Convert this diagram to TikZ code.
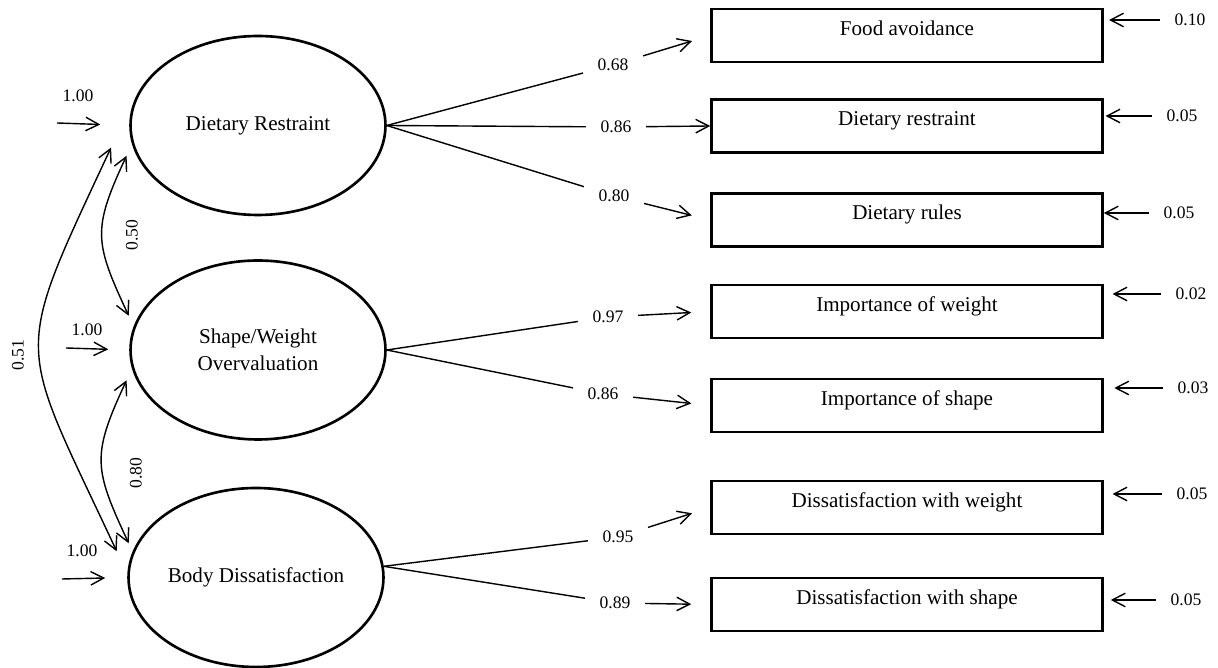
\documentclass[tikz,border=0pt]{standalone}
\usepackage{fontspec}
\setmainfont{Liberation Serif}
\usetikzlibrary{arrows.meta,shapes,positioning}

\begin{document}
\begin{tikzpicture}[x=0.02cm, y=0.02cm, line width=0.8pt,
		>={Straight Barb[length=2.6mm,width=2.7mm]},
		latent/.style={draw, ellipse, line width=1.5pt, inner sep=0pt, minimum width=5.1cm, minimum height=3.58cm, align=center, font=\fontsize{12}{15.5}\selectfont},
		manifest/.style={draw, rectangle, line width=1.5pt, minimum width=7.82cm, minimum height=1.06cm, text height=8.5pt, text depth=8.5pt, inner ysep=0pt, font=\fontsize{12}{14}\selectfont},
		coef/.style={inner xsep=0.28cm, inner ysep=0.1cm, font=\fontsize{10}{12}\selectfont}]
		\useasboundingbox (0,0) rectangle (1218,668);

		% Define nodes
		\node[latent] (DR) at (258,542.5) {Dietary Restraint};
		\node[latent] (SW) at (258,318) {Shape/Weight\\Overvaluation};
		\node[latent] (BD) at (256,90.5) {Body Dissatisfaction};

		\node[manifest] (fa) at (907,632.5) {Food avoidance};
		\node[manifest] (dres) at (907,542) {Dietary restraint};
		\node[manifest] (drul) at (907,448) {Dietary rules};
		\node[manifest] (iw) at (907,356.5) {Importance of weight};
		\node[manifest] (is) at (907,262.5) {Importance of shape};
		\node[manifest] (dw) at (907,160.5) {Dissatisfaction with weight};
		\node[manifest] (ds) at (907,63.5) {Dissatisfaction with shape};

		% loadings
		\node[coef] (l1) at (613,603) {0.68};
		\node[coef] (l2) at (616,541) {0.86};
		\node[coef] (l3) at (614,472) {0.80};
		\node[coef] (l4) at (608,351) {0.97};
		\node[coef] (l5) at (603,274) {0.86};
		\node[coef] (l6) at (618,131) {0.95};
		\node[coef] (l7) at (615,65) {0.89};

		% error terms
		\node[coef] (r1) at (1190,648) {0.10};
		\node[coef] (r2) at (1182,552) {0.05};
		\node[coef] (r3) at (1179,455) {0.05};
		\node[coef] (r4) at (1191,374) {0.02};
		\node[coef] (r5) at (1193,280) {0.03};
		\node[coef] (r6) at (1192,174) {0.05};
		\node[coef] (r7) at (1186,68) {0.05};

		% variances
		\node[coef] (v1) at (78,572) {1.00};
		\node[coef] (v2) at (87,338) {1.00};
		\node[coef] (v3) at (82,117) {1.00};
		\coordinate (u1) at (57,545);
		\coordinate (u2) at (66,320);
		\coordinate (u3) at (62,89);

		% covariances
		\node[coef, rotate=90] (c1) at (132,433) {0.50};
		\node[coef, rotate=90] (c2) at (136,195) {0.80};
		\node[coef, rotate=90] (c3) at (18,313) {0.51};

		% Draw arrows
		\draw (DR.east) -- (l1);
		\draw (DR.east) -- (l2);
		\draw (DR.east) -- (l3);
		\draw (SW.east) -- (l4);
		\draw (SW.east) -- (l5);
		\draw (BD.5) -- (l6);
		\draw (BD.5) -- (l7);

		\draw[->, shorten >=0.38cm] (l1) -- (fa.west);
		\draw[->] (l2) -- (dres.west);
		\draw[->, shorten >=0.38cm] (l3) -- (drul.west);
		\draw[->, shorten >=0.38cm] (l4) -- (iw.west);
		\draw[->, shorten >=0.38cm] (l5) -- (is.west);
		\draw[->, shorten >=0.38cm] (l6) -- (dw.west);
		\draw[->, shorten >=0.38cm] (l7) -- (ds.west);

		\draw[->, shorten >=3pt] (r1) -- (r1 -| fa.east);
		\draw[->, shorten >=1pt] (r2) -- (r2 -| dres.east);
		\draw[->] (r3) -- (r3 -| drul.east);
		\draw[->, shorten >=5pt] (r4) -- (r4 -| iw.east);
		\draw[->, shorten >=6pt] (r5) -- (r5 -| is.east);
		\draw[->, shorten >=5pt] (r6) -- (r6 -| dw.east);
		\draw[->, shorten >=4pt] (r7) -- (r7 -| ds.east);

		\draw[->, shorten >=0.58cm] (u1) -- (DR.west);
		\draw[->, shorten >=0.42cm] (u2) -- (SW.west);
		\draw[->, shorten >=0.44cm] (u3) -- (BD.west);

		\draw[<->] ([xshift=-0.2cm]DR.194) to[out=245,in=115,looseness=1.3] ([xshift=-0.2cm]SW.164);
		\draw[<->] ([xshift=-0.2cm]SW.194) to[out=245,in=115,looseness=1.3] ([xshift=-0.16cm]BD.164);
		\draw[<->] ([xshift=-0.44cm]DR.190) to[out=245,in=115,looseness=1.5] ([xshift=-0.32cm]BD.168);
	\end{tikzpicture}
\end{document}
